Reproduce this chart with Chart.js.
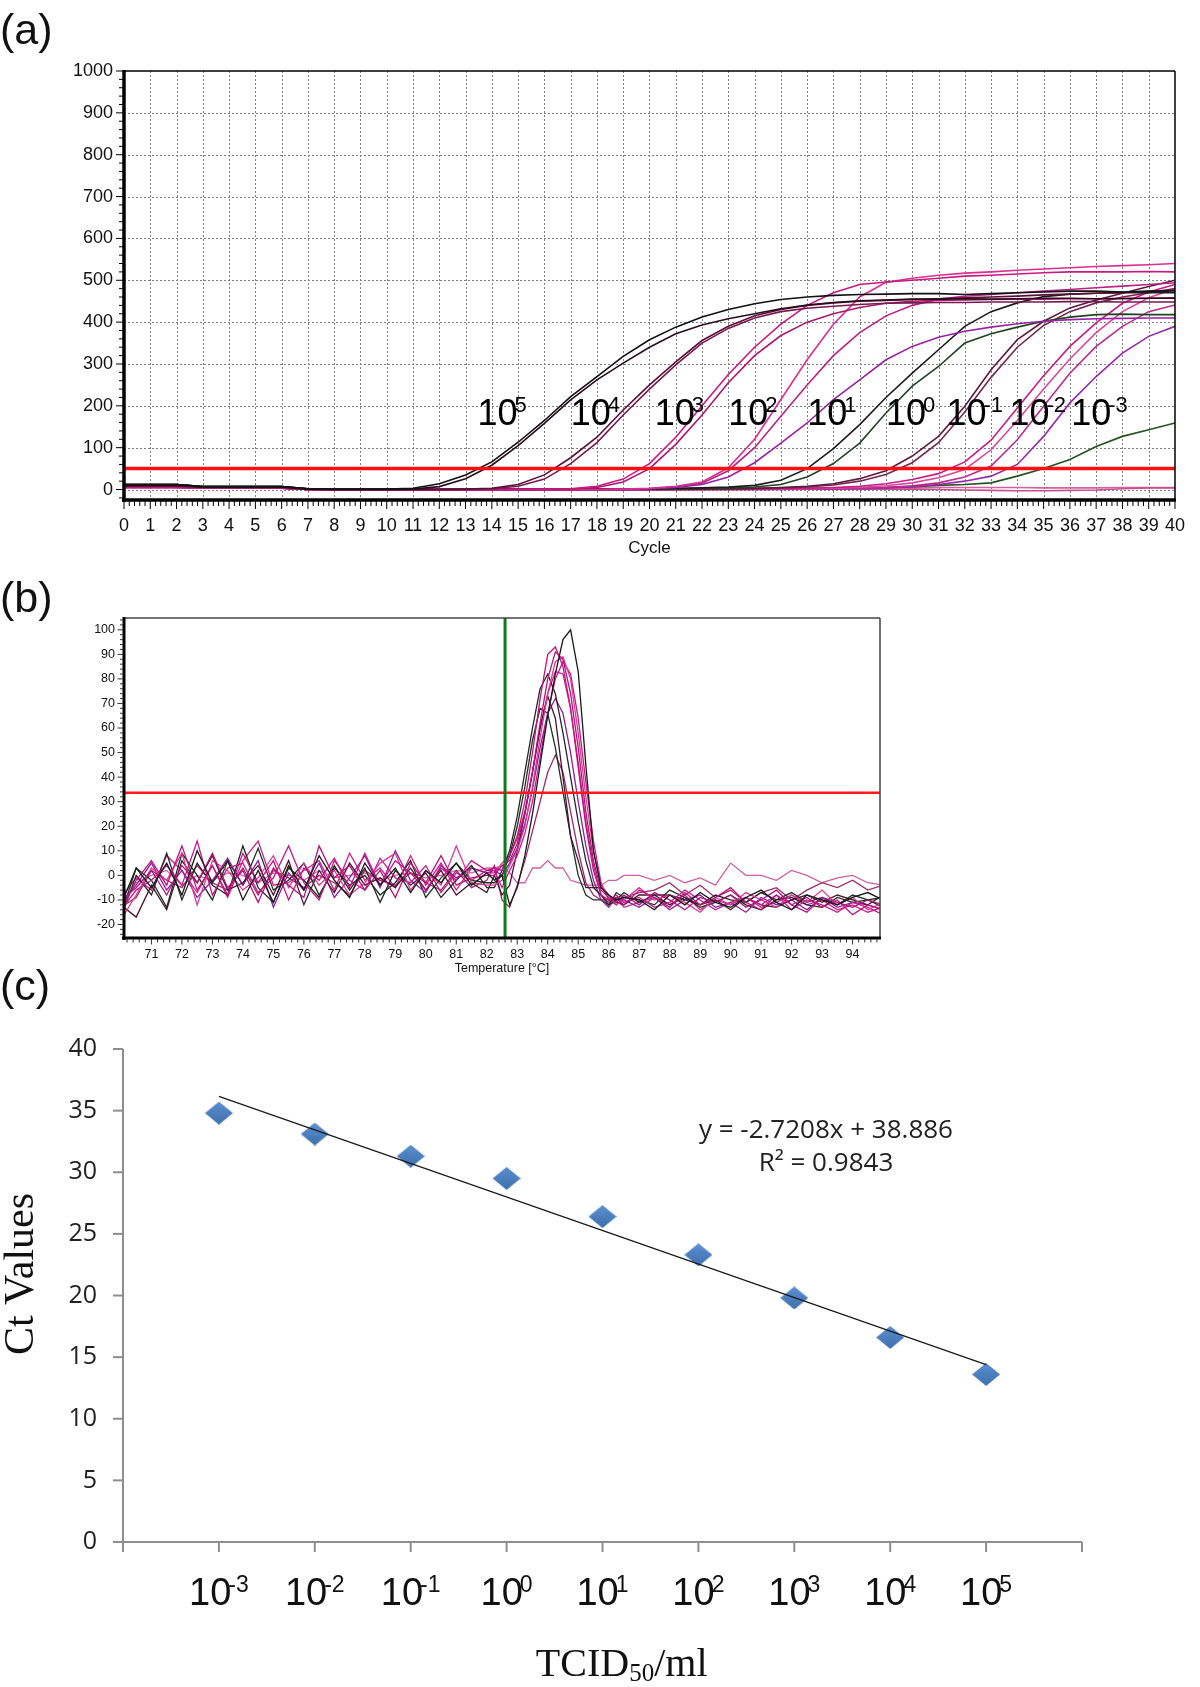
<!DOCTYPE html>
<html>
<head>
<meta charset="utf-8">
<script src="https://cdn.jsdelivr.net/npm/chart.js@4.4.0/dist/chart.umd.min.js"></script>
<style>
  html, body { margin: 0; padding: 0; background: #fff; }
  body { width: 1200px; height: 1687px; position: relative; overflow: hidden; font-family: "Liberation Sans", Arial, sans-serif; }
  canvas { position: absolute; left: 0; }
  .tag { position: absolute; left: 0; font-size: 43px; line-height: 1; color: #111; }
</style>
</head>
<body>
<canvas id="chartA" width="1200" height="570" style="top:0"></canvas>
<canvas id="chartB" width="1200" height="410" style="top:580px"></canvas>
<canvas id="chartC" width="1200" height="727" style="top:960px"></canvas>
<div class="tag" style="top:8px">(a)</div>
<div class="tag" style="top:576px">(b)</div>
<div class="tag" style="top:964px">(c)</div>
<script>
// ---- (a) amplification curves ----
const cycles = [0,1,2,3,4,5,6,7,8,9,10,11,12,13,14,15,16,17,18,19,20,21,22,23,24,25,26,27,28,29,30,31,32,33,34,35,36,37,38,39,40];
const ampCurves = [
  [12,12,12,7,7,7,7,2,1,1,1, 3,14,35,66,113,165,222,270,318,358, 388,412,430,444,454,460,464,466,467,468, 468,466,468,470,472,474,474,472,474,475],
  [10,10,10,6,6,6,6,1,0,0,0, 1,7,26,58,105,158,214,262,302,340, 372,393,408,420,432,441,447,451,453,455, 455,456,455,456,457,457,456,456,457,457],
  [9,9,9,6,6,6,6,1,0,0,0, 0,0,1,3,12,35,76,125,190,250, 305,356,390,415,430,440,446,450,452,454, 456,458,460,462,465,467,469,471,473,475],
  [8,8,8,5,5,5,5,1,0,0,0, 0,0,0,2,8,25,62,112,178,240, 298,350,385,410,425,433,438,442,445,446, 447,447,448,448,448,449,449,448,448,448],
  [6,6,6,4,4,4,4,0,0,0,0, 0,0,0,0,0,1,2,8,25,62, 125,200,275,340,395,440,470,490,496,500, 505,510,512,515,518,520,520,520,521,520],
  [6,6,6,4,4,4,4,0,0,0,0, 0,0,0,0,0,0,1,5,18,50, 108,178,255,320,368,400,420,435,445,450, 452,453,454,455,455,456,456,457,457,458],
  [5,5,5,3,3,3,3,0,0,0,0, 0,0,0,0,0,0,0,0,1,3, 8,18,52,120,215,310,395,460,495,505, 512,517,520,524,527,530,533,535,537,540],
  [5,5,5,3,3,3,3,0,0,0,0, 0,0,0,0,0,0,0,0,0,2, 5,12,30,64,111,159,215,262,310,342, 364,378,388,396,402,406,408,409,410,410],
  [5,5,5,3,3,3,3,0,0,0,0, 0,0,0,0,0,0,0,0,1,2, 6,15,45,100,175,250,320,375,415,440, 455,462,466,470,474,478,482,486,490,494],
  [12,12,12,7,7,7,7,2,1,1,1, 1,1,1,1,1,1,1,1,2,2, 3,4,6,10,22,50,98,155,220,278, 334,390,425,446,461,467,469,470,470,470],
  [12,12,12,7,7,7,7,2,1,1,1, 1,1,1,1,1,1,1,1,1,1, 2,3,4,6,12,30,62,111,183,247, 294,350,372,388,402,412,418,419,418,418],
  [8,8,8,5,5,5,5,1,0,0,0, 0,0,0,0,0,0,0,0,0,0, 1,1,2,3,5,8,14,26,45,80, 127,199,286,358,402,434,453,469,485,500],
  [8,8,8,5,5,5,5,1,0,0,0, 0,0,0,0,0,0,0,0,0,0, 0,1,1,2,4,6,11,20,36,64, 112,185,268,340,392,425,446,460,470,480],
  [6,6,6,4,4,4,4,0,0,0,0, 0,0,0,0,0,0,0,0,0,0, 0,0,1,1,2,3,5,8,14,24, 38,66,118,195,272,342,398,445,472,490],
  [6,6,6,4,4,4,4,0,0,0,0, 0,0,0,0,0,0,0,0,0,0, 0,0,0,1,1,2,3,5,9,16, 28,48,95,165,240,312,375,425,458,480],
  [6,6,6,4,4,4,4,0,0,0,0, 0,0,0,0,0,0,0,0,0,0, 0,0,0,0,1,1,2,3,5,9, 16,30,56,119,199,278,342,390,425,441],
  [5,5,5,3,3,3,3,0,0,0,0, 0,0,0,0,0,0,0,0,0,0, 0,0,0,0,0,1,1,2,4,7, 12,20,32,60,127,207,270,326,366,390],
  [12,12,12,7,7,7,7,2,1,1,1, 1,1,1,1,1,1,1,1,1,1, 1,1,1,2,2,3,3,4,5,7, 10,12,16,32,50,72,103,127,143,159],
  [6,6,6,4,4,4,4,0,0,0,0, 0,0,0,0,0,0,0,1,1,1, 2,2,2,3,3,2,2,1,1,1, 0,-1,-2,-3,-3,-2,-1,2,4,4],
  [5,5,5,3,3,3,3,0,0,0,0, 0,0,0,0,0,0,0,0,0,0, 0,1,1,1,2,2,3,3,4,4, 5,5,5,5,4,4,4,5,5,5]
];
const ampColors = ['#111111','#2a0c1c','#5a0f36','#741a4e','#c8197f','#a9186e','#d9308f','#9a22a2','#b82282','#1b1b1b',
  '#1f4422','#5e1b3e','#74284f','#c71c84','#d8479b','#bb2a8e','#9528aa','#235223','#c4508f','#d2629f'];
const ampThreshold = 50;
const dilutionExp = [5, 4, 3, 2, 1, 0, -1, -2, -3];
const labelCycles = [13.45, 17.0, 20.2, 23.0, 26.0, 29.0, 31.3, 33.7, 36.05];
const labelLevel = 155;

// ---- (b) melting curves ----
const meltTemps = [70,70.5,71,71.5,72,72.5,73,73.5,74,74.5,75,75.5,76,76.5,77,77.5,78,78.5,79,79.5,80,80.5,81,81.5,82,
  82.25,82.5,82.75,83,83.25,83.5,83.75,84,84.25,84.5,84.75,85,85.25,85.5,85.75,86,86.25,86.5,
  87,87.5,88,88.5,89,89.5,90,90.5,91,91.5,92,92.5,93,93.5,94,94.5,95];
const meltCurves = [
  [-12,3,-5,5,-8,10,-3,6,-10,2,-11,4,-6,8,-2,-9,5,-4,3,-7,2,-3,5,-4,1, -2,0,-12,-5,8,25,45,65,82,96,100,83,45,10,-5,-8,-10,-9, -10,-14,-8,-12,-7,-11,-13,-9,-6,-11,-14,-8,-10,-12,-9,-7,-10],
  [-15,-2,6,-4,12,-6,4,-8,9,-3,6,-10,3,-2,7,-5,9,-4,6,1,-6,3,-2,6,2, 3,2,8,16,30,50,72,90,93,85,68,44,20,2,-8,-10,-9,-12, -6,-9,-13,-7,-12,-9,-5,-11,-14,-8,-12,-9,-13,-10,-16,-12,-14],
  [-10,-5,2,-8,4,-3,9,-5,2,-11,3,-4,-9,12,-1,4,-6,2,-9,5,-3,8,-4,-1,0, 0,4,6,13,25,42,62,80,91,88,74,52,26,6,-6,-9,-11,-8, -12,-7,-10,-14,-9,-11,-8,-13,-10,-6,-12,-15,-9,-11,-13,-10,-12],
  [-18,-8,3,-2,9,-12,6,2,-6,-1,8,-5,5,-4,2,-8,-3,5,9,-6,2,-4,12,-3,-4, -4,-2,4,10,20,36,56,74,87,89,80,58,32,10,-4,-8,-12,-10, -5,-10,-8,-11,-15,-9,-12,-7,-10,-13,-8,-11,-6,-12,-9,-14,-11],
  [-14,-6,-2,4,-4,14,-8,3,5,-7,-1,12,-3,-10,6,-2,-6,7,-1,-3,4,-7,1,-2,2, 2,-5,2,8,17,30,48,66,80,87,82,64,38,14,-3,-10,-8,-11, -9,-13,-11,-6,-10,-14,-11,-9,-12,-8,-14,-10,-12,-15,-11,-13,-16],
  [-17,0,-8,9,-10,5,-4,-8,12,-5,-11,3,-2,-9,4,-6,3,-11,2,-4,1,-9,-2,4,-5, -5,2,10,24,42,60,76,82,74,58,40,22,6,-5,-8,-12,-10,-7, -11,-8,-12,-9,-12,-8,-10,-11,-7,-10,-9,-12,-13,-9,-11,-10,-9],
  [-12,-17,-4,-14,6,-3,8,-6,-3,4,-8,6,-12,2,-7,5,-4,-1,-5,3,-6,2,-8,-3,-7, 0,-8,-4,10,25,42,60,73,64,40,16,6,-5,-5,-5,-8,-11,-12, -8,-8,-8,-10,-12,-10,-14,-9,-12,-13,-10,-8,-11,-8,-10,-12,-8],
  [-11,-4,5,-6,2,-9,-2,7,-4,6,-13,1,-6,5,-9,-1,8,-5,10,-2,-7,4,-1,3,1, 2,0,5,11,21,35,52,66,72,66,50,30,12,-2,-10,-13,-9,-10, -13,-9,-14,-10,-8,-13,-11,-15,-9,-12,-10,-14,-9,-13,-11,-12,-14],
  [-16,3,-2,-13,9,0,-10,6,-4,11,-6,-2,5,-8,3,-4,0,-8,-3,6,-9,-1,5,-2,-3, -3,0,8,20,36,55,68,66,52,34,16,0,-8,-10,-10,-12,-7,-9, -10,-12,-6,-9,-13,-11,-8,-12,-14,-10,-7,-11,-9,-12,-8,-10,-13],
  [-13,-9,2,-2,-5,4,-3,-6,3,-8,2,-1,-5,0,-3,-8,2,-2,-4,1,-3,-6,2,-5,-2, 4,-10,-13,-4,6,18,30,42,49,42,26,10,-3,-8,-10,-10,-12,-9, -7,-6,-3,-8,-4,-9,-6,-11,-7,-5,-10,-6,-3,-5,-2,-6,-4],
  [-12,-3,0,2,-4,0,-2,1,0,-3,1,0,-2,2,-1,0,1,-2,0,1,-1,0,2,1,3, 3,4,1,-3,-3,3,3,6,3,3,-2,-3,-4,-4,-4,-2,-2,0, 0,-2,0,-3,-1,-4,5,0,0,-2,2,0,-3,-1,0,-3,-4],
  [-9,-1,-6,8,2,-7,4,-9,6,14,-4,-3,2,6,-6,9,-2,3,-5,8,-4,5,-6,3,1, 1,5,8,15,26,42,60,74,83,82,68,46,22,4,-8,-11,-9,-13, -11,-9,-12,-8,-14,-10,-12,-9,-13,-11,-8,-12,-10,-14,-12,-15,-13]
];
const meltColors = ['#1a1a1a','#c2127f','#b0157a','#d63a95','#c01c8a','#262626','#4a1430','#8b1f9c','#1d3320','#9a2a68','#d060a0','#cc2288'];
const meltThreshold = 33.6;
const meltTm = 82.6;

// ---- (c) standard curve ----
const tcidExp = [-3, -2, -1, 0, 1, 2, 3, 4, 5];
const dilutionIndex = [1, 2, 3, 4, 5, 6, 7, 8, 9];
const ctValues = [34.8, 33.1, 31.3, 29.5, 26.4, 23.3, 19.8, 16.6, 13.6];
const fitSlope = -2.7208;
const fitIntercept = 38.886;
const fitR2 = 0.9843;

Chart.defaults.font.family = '"Liberation Sans", Arial, Helvetica, sans-serif';
Chart.defaults.color = '#111';

function hLine(ctx, x1, x2, y) { ctx.beginPath(); ctx.moveTo(x1, y); ctx.lineTo(x2, y); ctx.stroke(); }
function vLine(ctx, x, y1, y2) { ctx.beginPath(); ctx.moveTo(x, y1); ctx.lineTo(x, y2); ctx.stroke(); }

// "10" with a superscript exponent
function drawPower(ctx, exp, x, baseY, size, centered) {
  const fam = '"Liberation Sans", Arial, sans-serif';
  const sSize = Math.round(size * 0.6);
  ctx.font = size + 'px ' + fam;
  const w = ctx.measureText('10').width;
  ctx.font = sSize + 'px ' + fam;
  const sw = ctx.measureText(String(exp)).width;
  const x0 = centered ? x - (w + sw - 3) / 2 : x;
  ctx.textAlign = 'left';
  ctx.textBaseline = 'alphabetic';
  ctx.font = size + 'px ' + fam;
  ctx.fillText('10', x0, baseY);
  ctx.font = sSize + 'px ' + fam;
  ctx.fillText(String(exp), x0 + w - 3, baseY - size * 0.34);
}

const ampPlugin = {
  id: 'ampPlugin',
  beforeDatasetsDraw(chart) {
    const {ctx, chartArea: a, scales: {x, y}} = chart;
    ctx.save();
    ctx.strokeStyle = '#808080';
    ctx.lineWidth = 1;
    ctx.setLineDash([2, 2]);
    x.ticks.forEach(t => {
      if (t.value > 0 && t.value < 40) vLine(ctx, Math.round(x.getPixelForValue(t.value)) + 0.5, a.top, a.bottom);
    });
    y.ticks.forEach(t => {
      if (t.value < 1000) hLine(ctx, a.left, a.right, Math.round(y.getPixelForValue(t.value)) + 0.5);
    });
    ctx.restore();
  },
  afterDatasetsDraw(chart) {
    const {ctx, chartArea: a, scales: {x, y}} = chart;
    ctx.save();
    ctx.strokeStyle = '#ff1010';
    ctx.lineWidth = 3.5;
    hLine(ctx, a.left, a.right, y.getPixelForValue(ampThreshold));

    ctx.strokeStyle = '#000';
    ctx.lineWidth = 1.5;
    hLine(ctx, a.left, a.right, a.top);
    vLine(ctx, a.right, a.top, a.bottom);
    ctx.lineWidth = 3.5;
    vLine(ctx, a.left, a.top - 1, a.bottom + 2);
    hLine(ctx, a.left - 2, a.right + 1, a.bottom);

    // small ticks
    ctx.lineWidth = 1;
    for (let v = -20; v <= 1000; v += 20) {
      const len = v % 100 === 0 ? 6 : 3;
      hLine(ctx, a.left - 2 - len, a.left - 1, y.getPixelForValue(v));
    }
    for (let i = 0; i <= 200; i++) {
      const len = i % 5 === 0 ? 7 : 4;
      vLine(ctx, x.getPixelForValue(i / 5), a.bottom + 1, a.bottom + 2 + len);
    }

    ctx.fillStyle = '#000';
    dilutionExp.forEach((e, i) => {
      drawPower(ctx, e, x.getPixelForValue(labelCycles[i]), y.getPixelForValue(labelLevel), 36, false);
    });

    ctx.font = '17px "Liberation Sans", Arial, sans-serif';
    ctx.textAlign = 'center';
    ctx.textBaseline = 'middle';
    ctx.fillStyle = '#111';
    ctx.fillText('Cycle', (a.left + a.right) / 2, a.bottom + 48);
    ctx.restore();
  }
};

const meltPlugin = {
  id: 'meltPlugin',
  afterDatasetsDraw(chart) {
    const {ctx, chartArea: a, scales: {x, y}} = chart;
    ctx.save();
    ctx.strokeStyle = '#ff1a1a';
    ctx.lineWidth = 2.5;
    hLine(ctx, a.left, a.right, y.getPixelForValue(meltThreshold));
    ctx.strokeStyle = '#0c7a18';
    ctx.lineWidth = 3;
    vLine(ctx, x.getPixelForValue(meltTm), a.top, a.bottom);

    ctx.strokeStyle = '#444';
    ctx.lineWidth = 1.5;
    hLine(ctx, a.left, a.right, a.top);
    vLine(ctx, a.right, a.top, a.bottom);
    ctx.strokeStyle = '#000';
    ctx.lineWidth = 3;
    vLine(ctx, a.left, a.top - 1, a.bottom + 2);
    hLine(ctx, a.left - 2, a.right + 1, a.bottom);

    ctx.lineWidth = 1;
    ctx.strokeStyle = '#333';
    for (let v = -24; v <= 104; v += 2) {
      const len = v % 10 === 0 ? 5 : 2.5;
      hLine(ctx, a.left - 1.5 - len, a.left - 1, y.getPixelForValue(v));
    }
    for (let i = 351; i <= 474; i++) {
      const len = i % 5 === 0 ? 5 : 3;
      vLine(ctx, x.getPixelForValue(i / 5), a.bottom + 1, a.bottom + 1.5 + len);
    }

    ctx.font = '12.5px "Liberation Sans", Arial, sans-serif';
    ctx.textAlign = 'center';
    ctx.textBaseline = 'middle';
    ctx.fillStyle = '#111';
    ctx.fillText('Temperature [\u00B0C]', (a.left + a.right) / 2, a.bottom + 31);
    ctx.restore();
  }
};

const stdPlugin = {
  id: 'stdPlugin',
  beforeDatasetsDraw(chart) {
    const {ctx, chartArea: a, scales: {x, y}} = chart;
    ctx.save();
    ctx.strokeStyle = '#8e8e8e';
    ctx.lineWidth = 2;
    vLine(ctx, a.left, a.top, a.bottom);
    hLine(ctx, a.left - 10, a.right, a.bottom);
    y.ticks.forEach(t => hLine(ctx, a.left - 10, a.left, y.getPixelForValue(t.value)));
    x.ticks.forEach(t => vLine(ctx, x.getPixelForValue(t.value), a.bottom, a.bottom + 10));
    ctx.restore();
  },
  afterDatasetsDraw(chart) {
    const {ctx, chartArea: a, scales: {x, y}} = chart;
    ctx.save();
    ctx.fillStyle = '#111';
    tcidExp.forEach((e, i) => drawPower(ctx, e, x.getPixelForValue(dilutionIndex[i]), a.bottom + 63, 38, true));

    // y title
    ctx.font = '42px "Liberation Serif", "Times New Roman", serif';
    ctx.textAlign = 'center';
    ctx.textBaseline = 'middle';
    ctx.translate(a.left - 101, a.top + 225);
    ctx.rotate(-Math.PI / 2);
    ctx.fillText('Ct Values', 0, 0);
    ctx.setTransform(1, 0, 0, 1, 0, 0);

    // x title with subscript
    const serif = '"Liberation Serif", "Times New Roman", serif';
    const parts = [['TCID', 40, 0], ['50', 25, 5], ['/ml', 40, 0]];
    let total = 0;
    parts.forEach(p => { ctx.font = p[1] + 'px ' + serif; total += ctx.measureText(p[0]).width; });
    let px = a.left + (a.right - a.left) * 0.52 - total / 2;
    const base = a.bottom + 134;
    ctx.textAlign = 'left';
    ctx.textBaseline = 'alphabetic';
    parts.forEach(p => {
      ctx.font = p[1] + 'px ' + serif;
      ctx.fillText(p[0], px, base + p[2]);
      px += ctx.measureText(p[0]).width;
    });

    // trendline equation
    ctx.font = '26px "Open Sans", sans-serif';
    ctx.textAlign = 'center';
    ctx.textBaseline = 'middle';
    ctx.fillStyle = '#222';
    const ex = x.getPixelForValue(7.33);
    const ey = y.getPixelForValue(33.4);
    ctx.fillText('y = ' + fitSlope + 'x + ' + fitIntercept, ex, ey);
    ctx.fillText('R\u00B2 = ' + fitR2, ex, ey + 33);
    ctx.restore();
  }
};

new Chart(document.getElementById('chartA'), {
  type: 'line',
  data: {
    datasets: ampCurves.map((vals, i) => ({
      data: cycles.map((c, j) => ({x: c, y: vals[j]})),
      borderColor: ampColors[i],
      borderWidth: 1.6,
      pointRadius: 0,
      tension: 0,
      fill: false,
      clip: 0
    }))
  },
  options: {
    responsive: false, animation: false, events: [], devicePixelRatio: 1,
    layout: {padding: {top: 71, right: 11, left: 0, bottom: 0}},
    plugins: {legend: {display: false}, tooltip: {enabled: false}},
    scales: {
      x: {
        type: 'linear', min: 0, max: 40,
        ticks: {stepSize: 1, autoSkip: false, maxRotation: 0, font: {size: 18}, color: '#111', padding: 15},
        grid: {display: false, drawTicks: false}, border: {display: false},
        afterFit: s => { s.height = 70; }
      },
      y: {
        type: 'linear', min: -25, max: 1000,
        ticks: {stepSize: 100, includeBounds: false, font: {size: 18}, color: '#111', padding: 11, callback: v => String(v)},
        grid: {display: false, drawTicks: false}, border: {display: false},
        afterFit: s => { s.width = 124; }
      }
    }
  },
  plugins: [ampPlugin]
});

new Chart(document.getElementById('chartB'), {
  type: 'line',
  data: {
    datasets: meltCurves.map((vals, i) => ({
      data: meltTemps.map((t, j) => ({x: t, y: vals[j]})),
      borderColor: meltColors[i],
      borderWidth: 1.3,
      pointRadius: 0,
      tension: 0,
      fill: false,
      clip: 0
    }))
  },
  options: {
    responsive: false, animation: false, events: [], devicePixelRatio: 1,
    layout: {padding: {top: 38, right: 320, left: 0, bottom: 0}},
    plugins: {legend: {display: false}, tooltip: {enabled: false}},
    scales: {
      x: {
        type: 'linear', min: 70.1, max: 94.9,
        ticks: {stepSize: 1, includeBounds: false, autoSkip: false, maxRotation: 0, font: {size: 12.5}, color: '#111', padding: 9},
        grid: {display: false, drawTicks: false}, border: {display: false},
        afterFit: s => { s.height = 52; }
      },
      y: {
        type: 'linear', min: -25.5, max: 104.8,
        ticks: {stepSize: 10, includeBounds: false, font: {size: 12.5}, color: '#111', padding: 9},
        grid: {display: false, drawTicks: false}, border: {display: false},
        afterFit: s => { s.width = 124; }
      }
    }
  },
  plugins: [meltPlugin]
});

function diamondImage(w, h) {
  const c = document.createElement('canvas');
  c.width = w; c.height = h;
  const g = c.getContext('2d');
  const grad = g.createLinearGradient(0, 0, 0, h);
  grad.addColorStop(0, '#5a8fcf');
  grad.addColorStop(1, '#3f70ad');
  g.fillStyle = grad;
  g.beginPath();
  g.moveTo(w / 2, 0); g.lineTo(w, h / 2); g.lineTo(w / 2, h); g.lineTo(0, h / 2);
  g.closePath();
  g.fill();
  return c;
}

new Chart(document.getElementById('chartC'), {
  type: 'scatter',
  data: {
    datasets: [
      {
        data: [dilutionIndex[0], dilutionIndex[dilutionIndex.length - 1]].map(v => ({x: v, y: fitSlope * v + fitIntercept})),
        showLine: true, borderColor: '#1a1a1a', borderWidth: 1.3, pointRadius: 0, clip: false
      },
      {
        data: dilutionIndex.map((v, i) => ({x: v, y: ctValues[i]})),
        pointStyle: diamondImage(28, 23), pointRadius: 12, clip: false
      }
    ]
  },
  options: {
    responsive: false, animation: false, events: [], devicePixelRatio: 1,
    layout: {padding: {top: 89, right: 118, left: 0, bottom: 0}},
    plugins: {legend: {display: false}, tooltip: {enabled: false}},
    scales: {
      x: {
        type: 'linear', min: 0, max: 10,
        ticks: {stepSize: 1, display: false},
        grid: {display: false, drawTicks: false}, border: {display: false},
        afterFit: s => { s.height = 145; }
      },
      y: {
        type: 'linear', min: 0, max: 40,
        ticks: {stepSize: 5, font: {family: '"Open Sans", sans-serif', size: 25}, color: '#222', padding: 26},
        grid: {display: false, drawTicks: false}, border: {display: false},
        afterFit: s => { s.width = 123; }
      }
    }
  },
  plugins: [stdPlugin]
});
</script>
</body>
</html>
